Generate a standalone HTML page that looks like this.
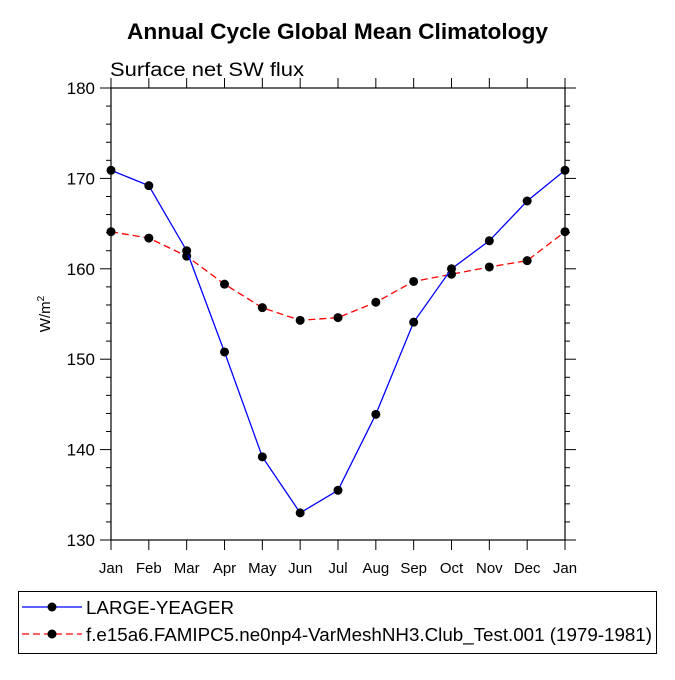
<!DOCTYPE html>
<html><head><meta charset="utf-8"><style>
body{margin:0;background:#fff}
svg text{font-family:"Liberation Sans",Arial,sans-serif;fill:#000}
</style></head><body>
<svg id="c" width="675" height="675" viewBox="0 0 675 675" xmlns="http://www.w3.org/2000/svg">
<rect width="675" height="675" fill="#fff"/>
<text x="127" y="39" font-size="22" font-weight="bold" textLength="421" lengthAdjust="spacingAndGlyphs">Annual Cycle Global Mean Climatology</text>
<text x="110" y="76" font-size="19" textLength="194" lengthAdjust="spacingAndGlyphs">Surface net SW flux</text>
<g id="axes"></g>
<g id="series"></g>
<g>
<rect x="18.5" y="591.5" width="638" height="62" fill="#fff" stroke="#000"/>
<line x1="22" y1="607" x2="82" y2="607" stroke="#0000ff" stroke-width="1.3"/>
<circle cx="52" cy="607" r="4.5"/>
<text x="86" y="614" font-size="18" textLength="148" lengthAdjust="spacingAndGlyphs">LARGE-YEAGER</text>
<line x1="22" y1="634" x2="82" y2="634" stroke="#ff0000" stroke-width="1.3" stroke-dasharray="7,4"/>
<circle cx="52" cy="634" r="4.5"/>
<text x="86" y="641" font-size="18" textLength="566" lengthAdjust="spacingAndGlyphs">f.e15a6.FAMIPC5.ne0np4-VarMeshNH3.Club_Test.001 (1979-1981)</text>
</g>
</svg>
<script>
const months=["Jan","Feb","Mar","Apr","May","Jun","Jul","Aug","Sep","Oct","Nov","Dec","Jan"];
const blueValues=[170.9,169.2,162.0,150.8,139.2,133.0,135.5,143.9,154.1,160.0,163.1,167.5,170.9];
const redValues=[164.1,163.4,161.4,158.3,155.7,154.3,154.6,156.3,158.6,159.4,160.2,160.9,164.1];
const yTicks=[130,140,150,160,170,180];
const NS="http://www.w3.org/2000/svg";
const X0=111,X1=565,Y0=88,Y1=540,YMIN=130,YMAX=180;
const xs=i=>X0+i*(X1-X0)/(months.length-1);
const ys=v=>Y1-(v-YMIN)/(YMAX-YMIN)*(Y1-Y0);
function mk(t,a,p){const e=document.createElementNS(NS,t);for(const k in a)e.setAttribute(k,a[k]);p.appendChild(e);return e;}
const ax=document.getElementById('axes');
const frame=mk('rect',{x:X0,y:Y0,width:X1-X0,height:Y1-Y0,fill:'none',stroke:'#000','stroke-width':1.2},ax);


months.forEach((m,i)=>{const x=xs(i);
 mk('line',{x1:x,y1:Y1,x2:x,y2:Y1+10,stroke:'#000'},ax);
 mk('line',{x1:x,y1:Y0,x2:x,y2:Y0-10,stroke:'#000'},ax);
 const t=mk('text',{x:x,y:Y1+33,'text-anchor':'middle','font-size':15},ax);t.textContent=m;
 
 
});
for(let v=YMIN;v<=YMAX;v+=2){const y=ys(v);const maj=(v%10===0);const L=maj?11:5;
 mk('line',{x1:X0-L,y1:y,x2:X0,y2:y,stroke:'#000'},ax);
 mk('line',{x1:X1,y1:y,x2:X1+L,y2:y,stroke:'#000'},ax);}
yTicks.forEach(v=>{const t=mk('text',{x:X0-16,y:ys(v)+6,'text-anchor':'end','font-size':17},ax);t.textContent=v;
 
 });
const yt=mk('text',{transform:'translate(50,314) rotate(-90)','text-anchor':'middle','font-size':15},ax);
yt.innerHTML='W/m<tspan dy="-6" font-size="10">2</tspan>';


const sg=document.getElementById('series');
function series(vals,color,dash,name){
 const g=mk('g',{},sg);
 
 
 const a={points:vals.map((v,i)=>xs(i)+','+ys(v)).join(' '),fill:'none',stroke:color,'stroke-width':1.3};
 if(dash)a['stroke-dasharray']=dash;
 mk('polyline',a,g);
 vals.forEach((v,i)=>{const c=mk('circle',{cx:xs(i),cy:ys(v),r:4.5,fill:'#000'},g);
  
  });
}
series(redValues,'#ff0000','7,4','series-test');
series(blueValues,'#0000ff',null,'series-large-yeager');
</script>
</body></html>
